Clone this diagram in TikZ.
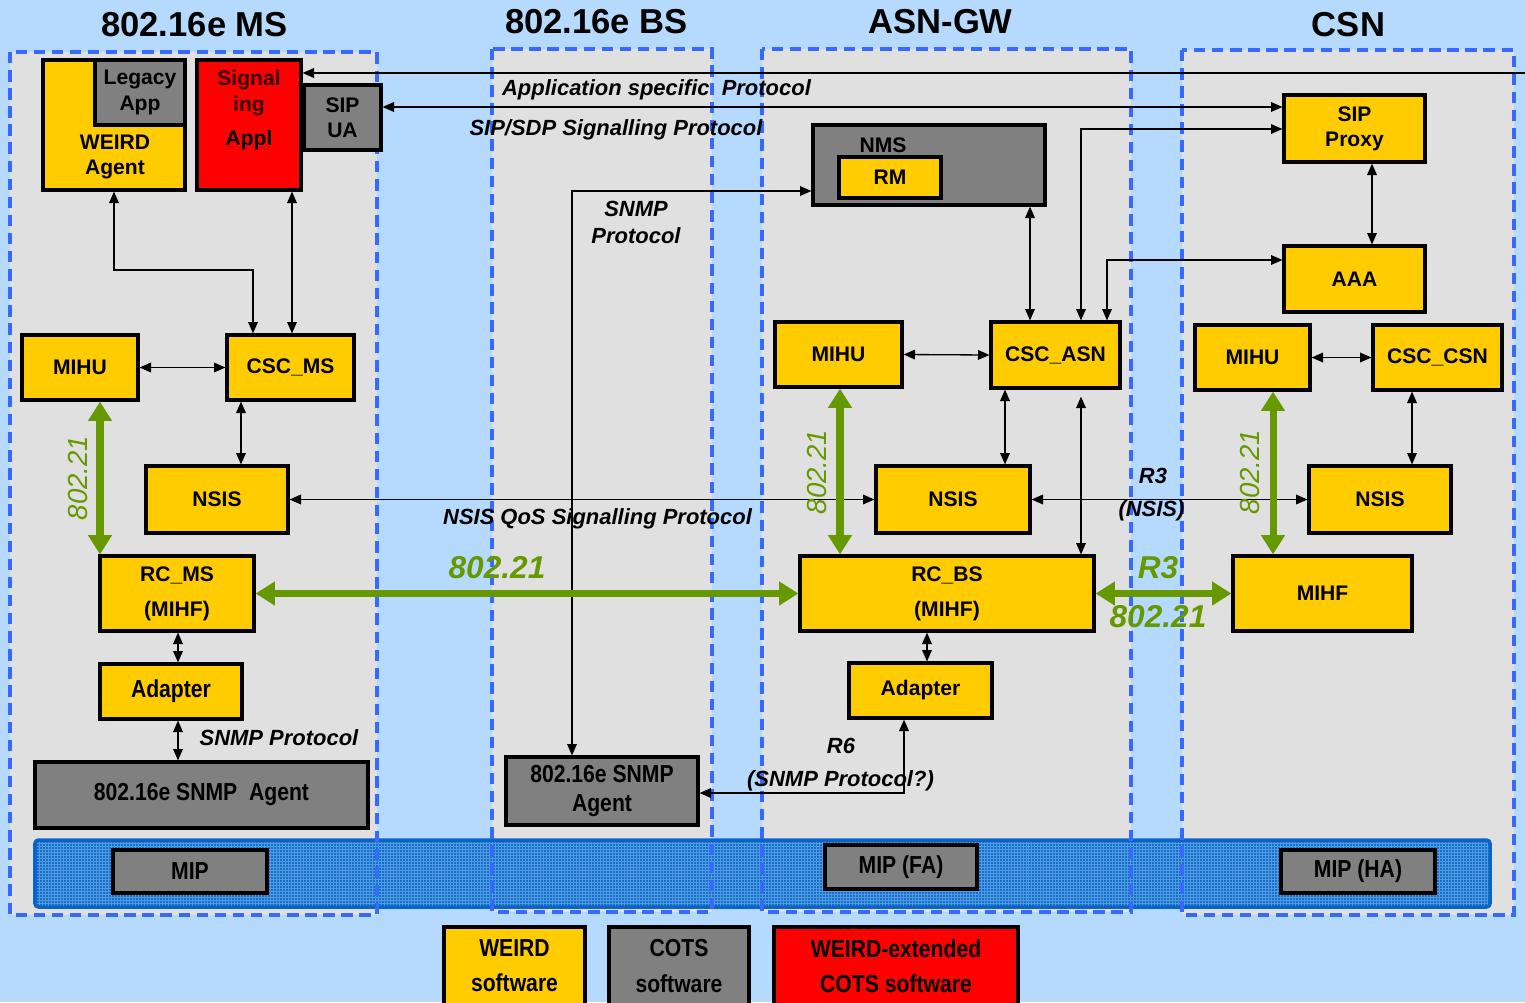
\documentclass[tikz,border=0pt]{standalone}
\usepackage{fontspec}
\setmainfont{Liberation Sans}
\newfontfamily\narrowfont[FakeStretch=0.86]{Liberation Sans}
\usetikzlibrary{arrows.meta,positioning,calc}

\definecolor{bgblue}{RGB}{182,218,254}
\definecolor{regiongray}{RGB}{224,224,224}
\definecolor{regionblue}{RGB}{55,105,255}
\definecolor{weirdyellow}{RGB}{255,204,0}
\definecolor{cotsgray}{RGB}{128,128,128}
\definecolor{extred}{RGB}{255,0,0}
\definecolor{sigtext}{RGB}{55,0,0}
\definecolor{mihgreen}{RGB}{102,153,0}
\definecolor{mipblue}{RGB}{22,112,200}
\definecolor{mipmesh}{RGB}{80,155,228}
\definecolor{mipedge}{RGB}{10,100,200}

\newcommand{\boxfont}{\fontsize{12}{14.4}\selectfont\bfseries}
\newcommand{\narrowbox}{\narrowfont\fontsize{14}{16}\selectfont\bfseries}
\newcommand{\titlefont}{\fontsize{19.7}{23}\selectfont\bfseries}
\newcommand{\protofont}{\fontsize{12.5}{15}\selectfont\bfseries\itshape}
\newcommand{\greenfont}{\fontsize{18}{21}\selectfont\bfseries\itshape}
\newcommand{\greenvfont}{\fontsize{15.7}{18}\selectfont\itshape}

\tikzset{
  sizebox/.style 2 args={minimum width=#1*0.02cm, minimum height=#2*0.02cm},
  unitbox/.style={draw=black, line width=1.8pt, inner sep=1pt, align=center, font=\boxfont},
  weirdbox/.style={unitbox, fill=weirdyellow},
  cotsbox/.style={unitbox, fill=cotsgray},
  extbox/.style={unitbox, fill=extred},
  region/.style={fill=regiongray},
  regionedge/.style={draw=regionblue, line width=2pt, dash pattern=on 6.5pt off 3.8pt},
  regiontitle/.style={font=\titlefont, inner sep=0pt},
  lnk/.style={<->, line width=0.75pt},
  mihlink/.style={{Triangle[length=11pt,width=13pt]}-{Triangle[length=11pt,width=13pt]}, draw=mihgreen, line width=4pt},
  proto/.style={font=\protofont, align=center, inner sep=0pt},
  mihlabel/.style={font=\greenfont, text=mihgreen, inner sep=0pt},
  mihvlabel/.style={font=\greenvfont, text=mihgreen, inner sep=0pt, rotate=90}
}

\begin{document}
\begin{tikzpicture}[x=0.02cm, y=-0.02cm, >={Triangle[length=6.5pt,width=5.5pt]}]
  \useasboundingbox (0,0) rectangle (1525,1002);
  \clip (0,0) rectangle (1525,1002);
  \fill[bgblue] (0,0) rectangle (1525,1002);

  % domains
  \fill[region] (10,52) rectangle (377,915);
  \fill[region] (492,49) rectangle (712,912);
  \fill[region] (762,49) rectangle (1131,912);
  \fill[region] (1182,50) rectangle (1514,915);

  % MIP layer
  \fill[mipblue] (35,840) rectangle (1490,907);
  \draw[mipmesh, line width=0.3pt, step=0.06cm] (35,840) grid (1490,907);
  \draw[mipedge, line width=2pt, rounded corners=2pt] (35,840) rectangle (1490,907);

  \draw[regionedge] (10,52) rectangle (377,915);
  \draw[regionedge] (492,49) rectangle (712,912);
  \draw[regionedge] (762,49) rectangle (1131,912);
  \draw[regionedge] (1182,50) rectangle (1514,915);

  \node[regiontitle] (tms) at (194.5,25) {802.16e MS};
  \node[regiontitle] (tbs) at (596.5,22) {802.16e BS};
  \node[regiontitle] (tasn) at (940.5,22) {ASN-GW};
  \node[regiontitle] (tcsn) at (1348.5,25) {CSN};

  % 802.16e MS
  \node[weirdbox, sizebox={142}{130}] (weird) at (114,125) {};
  \node[cotsbox, sizebox={90}{65}] (legacy) at (140,92.5) {Legacy\\App};
  \node[font=\boxfont, align=center] (weirdtxt) at (115,157) {WEIRD\\Agent};
  \node[extbox, sizebox={104}{130}] (sigappl) at (249,125) {};
  \node[font=\boxfont, align=center] (sigtxt) at (249,110) {{\color{sigtext}Signal}\\{\color{sigtext}ing}\\[5pt]Appl};
  \node[cotsbox, sizebox={77}{65}] (sipua) at (342.5,117.5) {SIP\\UA};
  \node[weirdbox, sizebox={116}{65}] (mihums) at (80,367.5) {MIHU};
  \node[weirdbox, sizebox={127}{65}] (cscms) at (290.5,367.5) {CSC\_MS};
  \node[weirdbox, sizebox={142}{67}] (nsisms) at (217,499.5) {NSIS};
  \node[weirdbox, sizebox={154}{75}] (rcms) at (177,593.5) {RC\_MS\\[5.5pt](MIHF)};
  \node[weirdbox, sizebox={142}{55}, font=\narrowbox] (adapterms) at (171,691.5) {Adapter};
  \node[cotsbox, sizebox={333}{66}, font=\narrowbox] (snmpms) at (201.5,795) {802.16e SNMP\ \ Agent};
  \node[cotsbox, sizebox={154}{43}, font=\narrowbox] (mipms) at (190,871.5) {MIP};

  % 802.16e BS
  \node[cotsbox, sizebox={192}{68}, font=\narrowbox] (snmpbs) at (602,791) {802.16e SNMP\\Agent};

  % ASN-GW
  \node[cotsbox, sizebox={232}{80}] (nms) at (929,165) {};
  \node[font=\boxfont] (nmstxt) at (883,145) {NMS};
  \node[weirdbox, sizebox={102}{41}] (rm) at (890,177.5) {RM};
  \node[weirdbox, sizebox={127}{65}] (mihuasn) at (838.5,354.5) {MIHU};
  \node[weirdbox, sizebox={129}{66}] (cscasn) at (1055.5,355) {CSC\_ASN};
  \node[weirdbox, sizebox={154}{67}] (nsisasn) at (953,499.5) {NSIS};
  \node[weirdbox, sizebox={294}{75}] (rcbs) at (947,593.5) {RC\_BS\\[5.5pt](MIHF)};
  \node[weirdbox, sizebox={143}{55}] (adapterasn) at (920.5,690.5) {Adapter};
  \node[cotsbox, sizebox={152}{44}, font=\narrowbox] (mipfa) at (901,867) {MIP (FA)};

  % CSN
  \node[weirdbox, sizebox={141}{67}] (sipproxy) at (1354.5,128.5) {SIP\\Proxy};
  \node[weirdbox, sizebox={141}{66}] (aaa) at (1354.5,279) {AAA};
  \node[weirdbox, sizebox={115}{65}] (mihucsn) at (1252.5,357.5) {MIHU};
  \node[weirdbox, sizebox={129}{65}] (csccsn) at (1437.5,357.5) {CSC\_CSN};
  \node[weirdbox, sizebox={142}{67}] (nsiscsn) at (1380,499.5) {NSIS};
  \node[weirdbox, sizebox={179}{75}] (mihf) at (1322.5,593.5) {MIHF};
  \node[cotsbox, sizebox={154}{43}, font=\narrowbox] (mipha) at (1358,871.5) {MIP (HA)};

  % legend
  \node[weirdbox, sizebox={141}{78}, font=\narrowbox] (lgweird) at (514.5,966) {WEIRD\\[4pt]software};
  \node[cotsbox, sizebox={140}{78}, font=\narrowbox] (lgcots) at (679,966) {COTS\\[4pt]software};
  \node[extbox, sizebox={244}{78}, font=\narrowbox] (lgext) at (896,966) {WEIRD-extended\\[4pt]COTS software};

  % signalling paths
  \coordinate (appedge) at (1525,73);
  \draw[->, line width=0.75pt] (appedge) -- (appedge -| sigappl.east);
  \coordinate (siprow) at (0,107);
  \draw[lnk] (sipua.east |- siprow) -- (sipproxy.west |- siprow);
  \coordinate (proxybend) at (1081,129);
  \draw[lnk] (proxybend |- cscasn.north) -- (proxybend) -- (proxybend -| sipproxy.west);
  \coordinate (aaabend) at (1107,260);
  \draw[lnk] (aaabend |- cscasn.north) -- (aaabend) -- (aaabend -| aaa.west);
  \coordinate (nmscol) at (1030,0);
  \draw[lnk] (nms.south -| nmscol) -- (cscasn.north -| nmscol);
  \coordinate (snmpbend) at (572,191);
  \draw[lnk] (snmpbend |- snmpbs.north) -- (snmpbend) -- (snmpbend -| nms.west);
  \coordinate (r6bend) at (904,793);
  \draw[lnk] (r6bend |- adapterasn.south) -- (r6bend) -- (r6bend -| snmpbs.east);
  \draw[lnk] (nsisms.east) -- (nsisasn.west);
  \draw[lnk] (nsisasn.east) -- (nsiscsn.west);

  % inside MS
  \coordinate (weirdbend) at (253,270);
  \draw[lnk] (weird.south) |- (weirdbend) -- (weirdbend |- cscms.north);
  \coordinate (sigcol) at (292,0);
  \draw[lnk] (sigappl.south -| sigcol) -- (cscms.north -| sigcol);
  \draw[lnk] (mihums.east) -- (cscms.west);
  \coordinate (nsismscol) at (241,0);
  \draw[lnk] (cscms.south -| nsismscol) -- (nsisms.north -| nsismscol);
  \coordinate (adaptmscol) at (178,0);
  \draw[lnk] (rcms.south -| adaptmscol) -- (adapterms.north -| adaptmscol);
  \draw[lnk] (adapterms.south -| adaptmscol) -- (snmpms.north -| adaptmscol);

  % inside ASN-GW
  \draw[lnk] (mihuasn.east) -- (cscasn.west);
  \coordinate (nsisasncol) at (1005,0);
  \draw[lnk] (cscasn.south -| nsisasncol) -- (nsisasn.north -| nsisasncol);
  \draw[lnk, shorten <=4pt] (cscasn.south -| proxybend) -- (rcbs.north -| proxybend);
  \coordinate (adaptasncol) at (927,0);
  \draw[lnk] (rcbs.south -| adaptasncol) -- (adapterasn.north -| adaptasncol);

  % inside CSN
  \coordinate (aaacol) at (1372,0);
  \draw[lnk] (sipproxy.south -| aaacol) -- (aaa.north -| aaacol);
  \draw[lnk] (mihucsn.east) -- (csccsn.west);
  \coordinate (nsiscsncol) at (1412,0);
  \draw[lnk] (csccsn.south -| nsiscsncol) -- (nsiscsn.north -| nsiscsncol);

  % 802.21 links
  \coordinate (msgreen) at (100,0);
  \draw[mihlink] (mihums.south -| msgreen) -- (rcms.north -| msgreen);
  \draw[mihlink] (rcms.east) -- (rcbs.west);
  \coordinate (asngreen) at (840,0);
  \draw[mihlink] (mihuasn.south -| asngreen) -- (rcbs.north -| asngreen);
  \draw[mihlink] (rcbs.east) -- (mihf.west);
  \coordinate (csngreen) at (1273,0);
  \draw[mihlink] (mihucsn.south -| csngreen) -- (mihf.north -| csngreen);

  % labels
  \node[proto] (lapp) at (656.5,90) {Application specific\ \ Protocol};
  \node[proto] (lsip) at (616,130) {SIP/SDP Signalling Protocol};
  \node[proto] (lsnmpbs) at (636,222.5) {SNMP\\Protocol};
  \node[proto] (lsnmpms) at (279,738) {SNMP Protocol};
  \node[proto] (lr6) at (841,746) {R6};
  \node[proto] (lr6b) at (840.5,781) {(SNMP Protocol?)};
  \node[proto] (lqos) at (597.5,519) {NSIS QoS Signalling Protocol};
  \node[proto] (lr3) at (1153,476) {R3};
  \node[proto] (lr3b) at (1151.5,511) {(NSIS)};

  \node[mihvlabel] (gms) at (78,478) {802.21};
  \node[mihlabel] (grc) at (497,568) {802.21};
  \node[mihvlabel] (gasn) at (817,472) {802.21};
  \node[mihvlabel] (gcsn) at (1250,472) {802.21};
  \node[mihlabel] (gr3) at (1158,568) {R3};
  \node[mihlabel] (gr3b) at (1158,617) {802.21};
\end{tikzpicture}
\end{document}
